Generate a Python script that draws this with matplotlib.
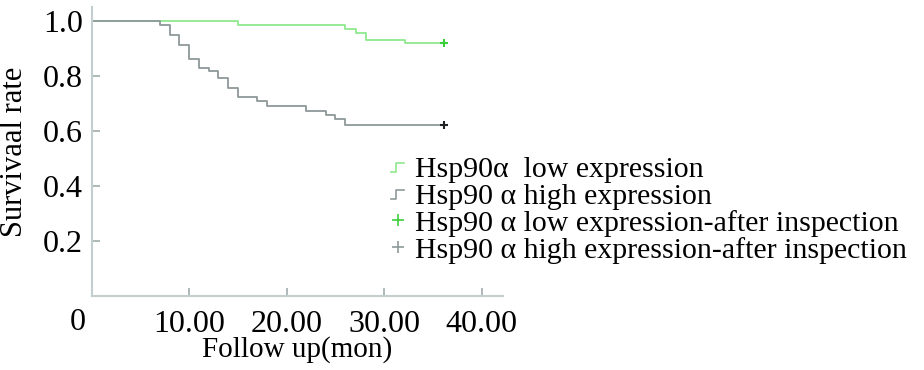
import matplotlib
matplotlib.use("Agg")
import matplotlib.pyplot as plt
from matplotlib.lines import Line2D
from matplotlib.legend_handler import HandlerBase

plt.rcParams['font.family'] = ['Liberation Serif', 'DejaVu Serif']

# ---- data ----
low_times = [0, 15.0, 26.0, 27.1, 28.1, 32.2, 36.1]
low_surv = [1.0, 0.983, 0.971, 0.956, 0.931, 0.918, 0.918]
high_times = [0, 7.0, 8.0, 9.0, 10.0, 11.0, 12.0, 13.0, 14.0, 15.0, 17.0, 18.0, 22.0, 24.0, 25.0, 26.0, 36.1]
high_surv = [1.0, 0.983, 0.949, 0.913, 0.861, 0.829, 0.817, 0.793, 0.757, 0.724, 0.708, 0.690, 0.672, 0.656, 0.642, 0.621, 0.621]
censor_low_t = [36.1]
censor_low_s = [0.918]
censor_high_t = [36.1]
censor_high_s = [0.621]

xticks = [10, 20, 30, 40]
xticklabels = ["10.00", "20.00", "30.00", "40.00"]
yticks = [0.2, 0.4, 0.6, 0.8, 1.0]
yticklabels = ["0.2", "0.4", "0.6", "0.8", "1.0"]
legend_labels = ["Hsp90\u03b1  low expression",
                 "Hsp90 \u03b1 high expression",
                 "Hsp90 \u03b1 low expression-after inspection",
                 "Hsp90 \u03b1 high expression-after inspection"]

GREEN = '#8fe88f'
GREEN_M = '#3ccf3c'
GRAY = '#8e9999'
DARK = '#1e2222'
AXC = '#c3cfcf'

W, H = 924, 370
fig = plt.figure(figsize=(W / 100, H / 100), dpi=100)
ax = fig.add_axes([91.5 / W, (H - 296) / H, (503 - 91.5) / W, (296 - 7) / H])
ax.set_xlim(0, 42.2)
ax.set_ylim(0, 1.05)

ax.step(low_times, low_surv, where='post', color=GREEN, lw=1.3)
ax.step(high_times, high_surv, where='post', color=GRAY, lw=1.3)
ax.plot(censor_low_t, censor_low_s, '+', color=GREEN_M, ms=6, mew=1.5)
ax.plot(censor_high_t, censor_high_s, '+', color=DARK, ms=6, mew=1.5)

for s in ['top', 'right']:
    ax.spines[s].set_visible(False)
for s in ['left', 'bottom']:
    ax.spines[s].set_color(AXC)
    ax.spines[s].set_linewidth(1.5)

ax.set_xticks(xticks)
ax.set_xticklabels(xticklabels)
ax.set_yticks(yticks)
ax.set_yticklabels(yticklabels)
ax.tick_params(axis='both', direction='in', length=6, width=1.3, color='#a9b3b3', labelsize=23)
ax.tick_params(axis='x', pad=10)
ax.tick_params(axis='y', pad=6)
ax.text(-1.4, -0.045, "0", transform=ax.transData, ha='center', va='top', fontsize=23)

ax.set_xlabel("Follow up(mon)", fontsize=21, labelpad=-2)
ax.set_ylabel("Survivaal rate", fontsize=22, labelpad=10)


class StepHandler(HandlerBase):
    def create_artists(self, legend, orig_handle, xdescent, ydescent, width, height, fontsize, trans):
        x0 = -xdescent
        xs = [x0, x0 + width * 0.4, x0 + width * 0.4, x0 + width]
        ys = [height * 0.25, height * 0.25, height * 0.65, height * 0.65]
        ln = Line2D(xs, ys, color=orig_handle.get_color(), lw=1.2, transform=trans)
        return [ln]


h1 = Line2D([], [], color=GREEN)
h2 = Line2D([], [], color=GRAY)
h3 = Line2D([], [], color=GREEN_M, marker='+', ls='none', ms=8, mew=1.2)
h4 = Line2D([], [], color=GRAY, marker='+', ls='none', ms=8, mew=1.2)
leg = fig.legend([h1, h2, h3, h4], legend_labels,
                 handler_map={h1: StepHandler(), h2: StepHandler()},
                 loc='upper left', bbox_to_anchor=(391 / W, 1 - 156 / H),
                 frameon=False, fontsize=21.5, handlelength=0.45, handletextpad=0.35,
                 labelspacing=0.0, borderpad=0, borderaxespad=0)

fig.savefig("out.png", dpi=100)
